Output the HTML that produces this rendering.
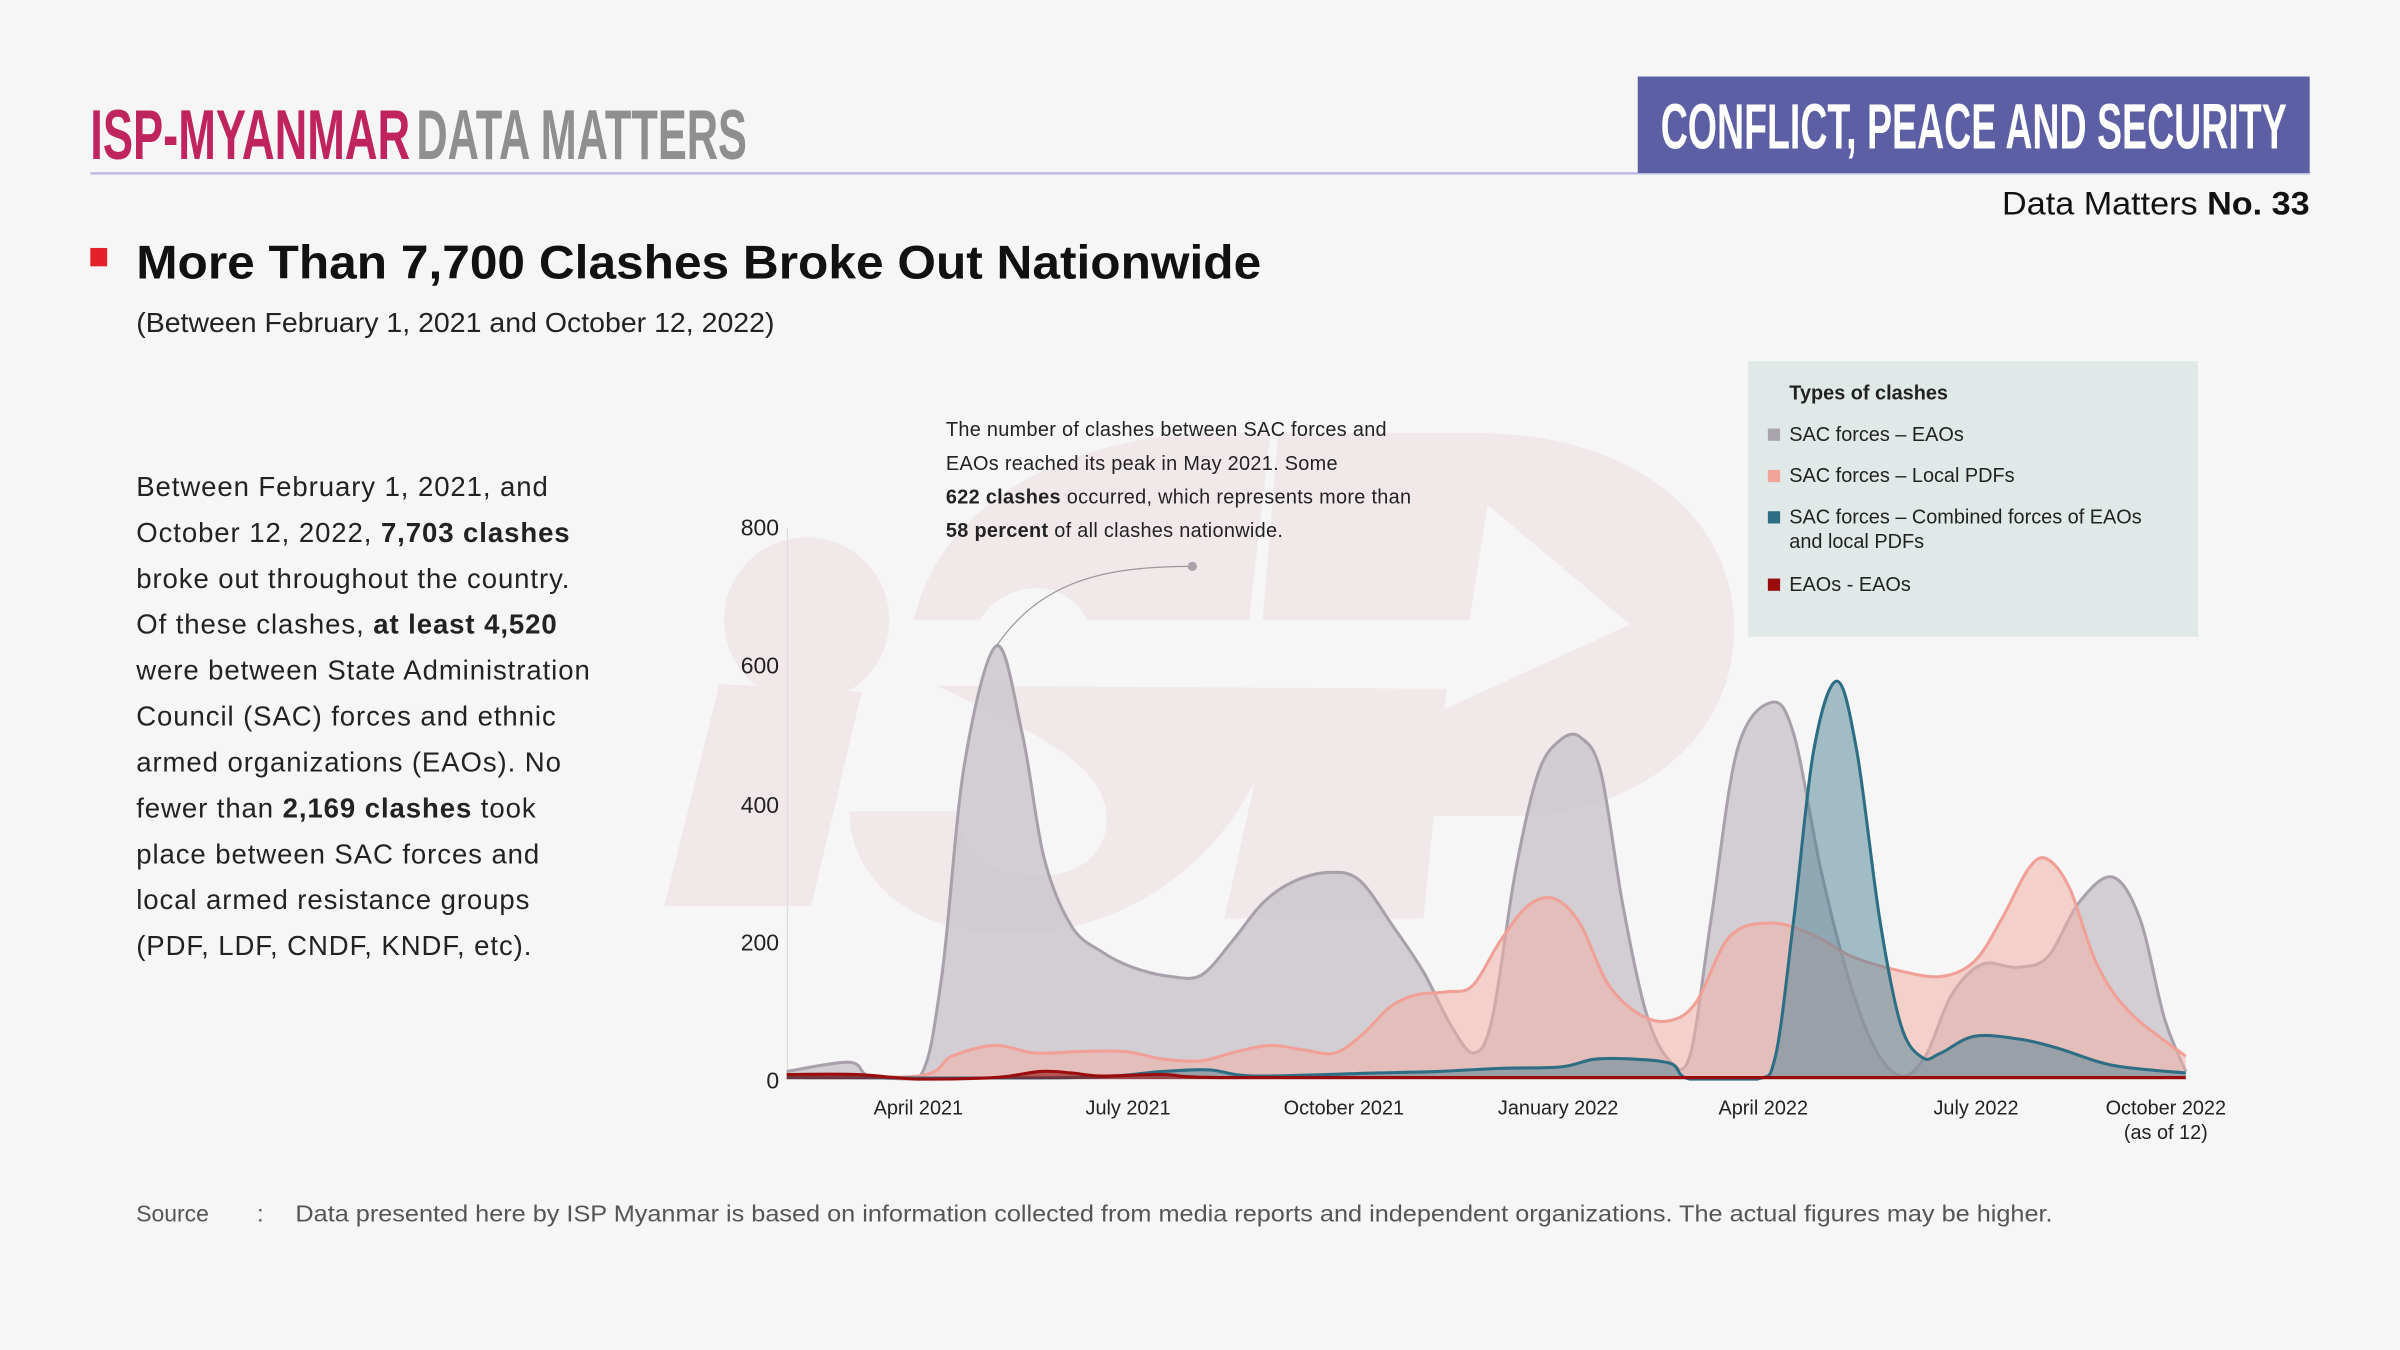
<!DOCTYPE html>
<html><head><meta charset="utf-8"><style>
html,body{margin:0;padding:0;background:#f5f6f5;}
svg{display:block}
text{font-family:"Liberation Sans",sans-serif;}
.n{font-family:"Liberation Sans Narrow","Liberation Sans",sans-serif;}
</style></head><body>
<svg id="s" width="2400" height="1350" viewBox="0 0 1568 882" xmlns="http://www.w3.org/2000/svg">
<rect width="1568" height="882" fill="#f5f6f5"/>
<!-- watermark -->
<g fill="#f1e8e9">
<circle cx="527" cy="405" r="54"/>
<path d="M470 447 L563 452 L530 592 L434 592 Z"/>
<path d="M597 405 C615 330 690 290 780 283 L830 283 L816 405 L710 405 C700 380 660 375 640 405 Z"/>
<path d="M835 283 L965 283 C1070 283 1133 340 1133 410 C1133 490 1060 533 990 533 L930 533 L940 465 L1065 408 L972 330 L960 405 L825 405 Z"/>
<path d="M612 448 L945 450 L930 600 L800 600 L820 510 C790 570 730 610 660 610 C590 610 555 570 555 530 L625 530 C630 560 650 572 680 572 C715 572 730 545 720 520 C710 495 670 475 612 448 Z"/>
</g>
<!-- header -->
<text class="n" x="59" y="104" font-size="46" font-weight="bold" fill="#c0245f" textLength="209" lengthAdjust="spacingAndGlyphs">ISP-MYANMAR</text>
<text class="n" x="272" y="104" font-size="46" font-weight="bold" fill="#8f8f8f" textLength="216" lengthAdjust="spacingAndGlyphs">DATA MATTERS</text>
<rect x="59" y="112.5" width="1450" height="1.5" fill="#b9b9e0"/>
<rect x="1070" y="50" width="439" height="63" fill="#5c5fa3"/>
<text class="n" x="1085" y="97" font-size="42" font-weight="bold" fill="#fff" textLength="409" lengthAdjust="spacingAndGlyphs">CONFLICT, PEACE AND SECURITY</text>
<text x="1308" y="140" font-size="21" fill="#111" textLength="201" lengthAdjust="spacingAndGlyphs">Data Matters <tspan font-weight="bold">No. 33</tspan></text>
<rect x="59" y="162" width="11" height="12" fill="#e4202a"/>
<text x="89" y="182" font-size="31" font-weight="bold" fill="#111" textLength="735" lengthAdjust="spacingAndGlyphs">More Than 7,700 Clashes Broke Out Nationwide</text>
<text x="89" y="217" font-size="18" fill="#222" textLength="417" lengthAdjust="spacingAndGlyphs">(Between February 1, 2021 and October 12, 2022)</text>
<!-- left paragraph -->
<g font-size="18" fill="#222" letter-spacing="0.6">
<text x="89" y="324">Between February 1, 2021, and</text>
<text x="89" y="354">October 12, 2022, <tspan font-weight="bold">7,703 clashes</tspan></text>
<text x="89" y="384">broke out throughout the country.</text>
<text x="89" y="414">Of these clashes, <tspan font-weight="bold">at least 4,520</tspan></text>
<text x="89" y="444">were between State Administration</text>
<text x="89" y="474">Council (SAC) forces and ethnic</text>
<text x="89" y="504">armed organizations (EAOs). No</text>
<text x="89" y="534">fewer than <tspan font-weight="bold">2,169 clashes</tspan> took</text>
<text x="89" y="564">place between SAC forces and</text>
<text x="89" y="594">local armed resistance groups</text>
<text x="89" y="624">(PDF, LDF, CNDF, KNDF, etc).</text>
</g>
<!-- annotation -->
<g font-size="13" fill="#222" letter-spacing="0.2">
<text x="618" y="285">The number of clashes between SAC forces and</text>
<text x="618" y="307">EAOs reached its peak in May 2021. Some</text>
<text x="618" y="329"><tspan font-weight="bold">622 clashes</tspan> occurred, which represents more than</text>
<text x="618" y="351"><tspan font-weight="bold">58 percent</tspan> of all clashes nationwide.</text>
</g>
<!-- legend -->
<rect x="1142" y="236" width="294" height="180" fill="#e0e8e8"/>
<g font-size="13" fill="#222">
<text x="1169" y="261" font-weight="bold">Types of clashes</text>
<rect x="1155" y="280" width="8" height="8" fill="#aaa5ad"/><text x="1169" y="288">SAC forces – EAOs</text>
<rect x="1155" y="307" width="8" height="8" fill="#f2a49a"/><text x="1169" y="315">SAC forces – Local PDFs</text>
<rect x="1155" y="334" width="8" height="8" fill="#2e6e84"/><text x="1169" y="342">SAC forces – Combined forces of EAOs</text>
<text x="1169" y="358">and local PDFs</text>
<rect x="1155" y="378" width="8" height="8" fill="#9b0d0d"/><text x="1169" y="386">EAOs - EAOs</text>
</g>
<!-- axes -->
<line x1="514.5" y1="345" x2="514.5" y2="705" stroke="#ddd" stroke-width="0.8"/>
<g font-size="15" fill="#222" text-anchor="end">
<text x="509" y="350">800</text><text x="509" y="440">600</text><text x="509" y="531">400</text><text x="509" y="621">200</text><text x="509" y="711">0</text>
</g>
<g font-size="13" fill="#222" text-anchor="middle">
<text x="600" y="728">April 2021</text><text x="737" y="728">July 2021</text><text x="878" y="728">October 2021</text><text x="1018" y="728">January 2022</text><text x="1152" y="728">April 2022</text><text x="1291" y="728">July 2022</text><text x="1415" y="728">October 2022</text><text x="1415" y="744">(as of 12)</text>
</g>
<g id="series"></g>
<path d="M651 422 C680 380 720 370 779 370" fill="none" stroke="#999" stroke-width="0.8"/>
<circle cx="779" cy="370" r="3" fill="#a8a3ab"/>
<!-- source -->
<g font-size="15" fill="#555">
<text x="89" y="798">Source</text><text x="168" y="798">:</text>
<text x="193" y="798" textLength="1148" lengthAdjust="spacingAndGlyphs">Data presented here by ISP Myanmar is based on information collected from media reports and independent organizations. The actual figures may be higher.</text>
</g>
</svg>
<script>
function cr(p){let d="M"+p[0][0]+" "+p[0][1];for(let i=0;i<p.length-1;i++){const a=p[i-1]||p[i],b=p[i],c=p[i+1],e=p[i+2]||c;
const c1=[b[0]+(c[0]-a[0])/6,b[1]+(c[1]-a[1])/6],c2=[c[0]-(e[0]-b[0])/6,c[1]-(e[1]-b[1])/6];
d+=" C"+c1[0].toFixed(1)+" "+Math.min(705,c1[1]).toFixed(1)+" "+c2[0].toFixed(1)+" "+Math.min(705,c2[1]).toFixed(1)+" "+c[0]+" "+c[1];}return d;}
const S=[
{f:"#c9c4ca",o:0.8,s:"#a8a1ab",p:[[514,700],[555,694],[568,703],[600,705],[615,640],[630,500],[651,422],[668,480],[682,560],[700,605],[720,622],[740,632],[765,638],[785,637],[805,615],[825,590],[845,576],[868,570],[888,575],[910,605],[930,635],[948,670],[963,688],[975,665],[990,570],[1005,505],[1020,483],[1033,482],[1046,505],[1060,590],[1075,660],[1090,692],[1104,690],[1118,600],[1135,490],[1157,459],[1172,480],[1190,570],[1208,640],[1225,685],[1242,703],[1258,690],[1275,650],[1295,630],[1318,632],[1338,625],[1358,590],[1380,573],[1398,600],[1414,665],[1428,700]]},
{f:"#f2b0a8",o:0.55,s:"#f0a097",p:[[514,704],[600,703],[622,690],[650,683],[676,688],[705,687],[735,687],[760,692],[785,693],[808,687],[830,683],[852,686],[872,688],[890,676],[908,658],[925,650],[945,648],[962,644],[980,615],[998,592],[1015,587],[1032,603],[1050,642],[1070,662],[1090,667],[1108,655],[1130,612],[1157,603],[1185,611],[1210,625],[1240,634],[1268,638],[1290,628],[1308,600],[1325,568],[1337,561],[1352,580],[1370,630],[1392,662],[1428,690]]},
{f:"#4d8296",o:0.5,s:"#2e6e84",p:[[514,704],[700,704],[760,700],[790,699],[820,703],[900,701],[940,700],[980,698],[1020,697],[1042,692],[1068,692],[1092,695],[1104,705],[1148,705],[1160,690],[1172,600],[1185,490],[1200,445],[1213,490],[1228,600],[1242,670],[1256,691],[1268,688],[1290,677],[1320,679],[1345,685],[1380,696],[1428,701]]},
{f:"#9b0d0d",o:0.6,s:"#9b0d0d",p:[[514,702],[560,702],[600,705],[650,704],[680,700],[700,701],[720,703],[760,702],[800,704],[1000,704],[1428,704]]}
];
let h="";for(const s of S){const d=cr(s.p);const last=s.p[s.p.length-1],first=s.p[0];
h+=`<path d="${d} L${last[0]} 705 L${first[0]} 705 Z" fill="${s.f}" fill-opacity="${s.o}"/>`;
h+=`<path d="${d}" fill="none" stroke="${s.s}" stroke-width="2"/>`;}
document.getElementById("series").innerHTML=h;
</script>
</body></html>
